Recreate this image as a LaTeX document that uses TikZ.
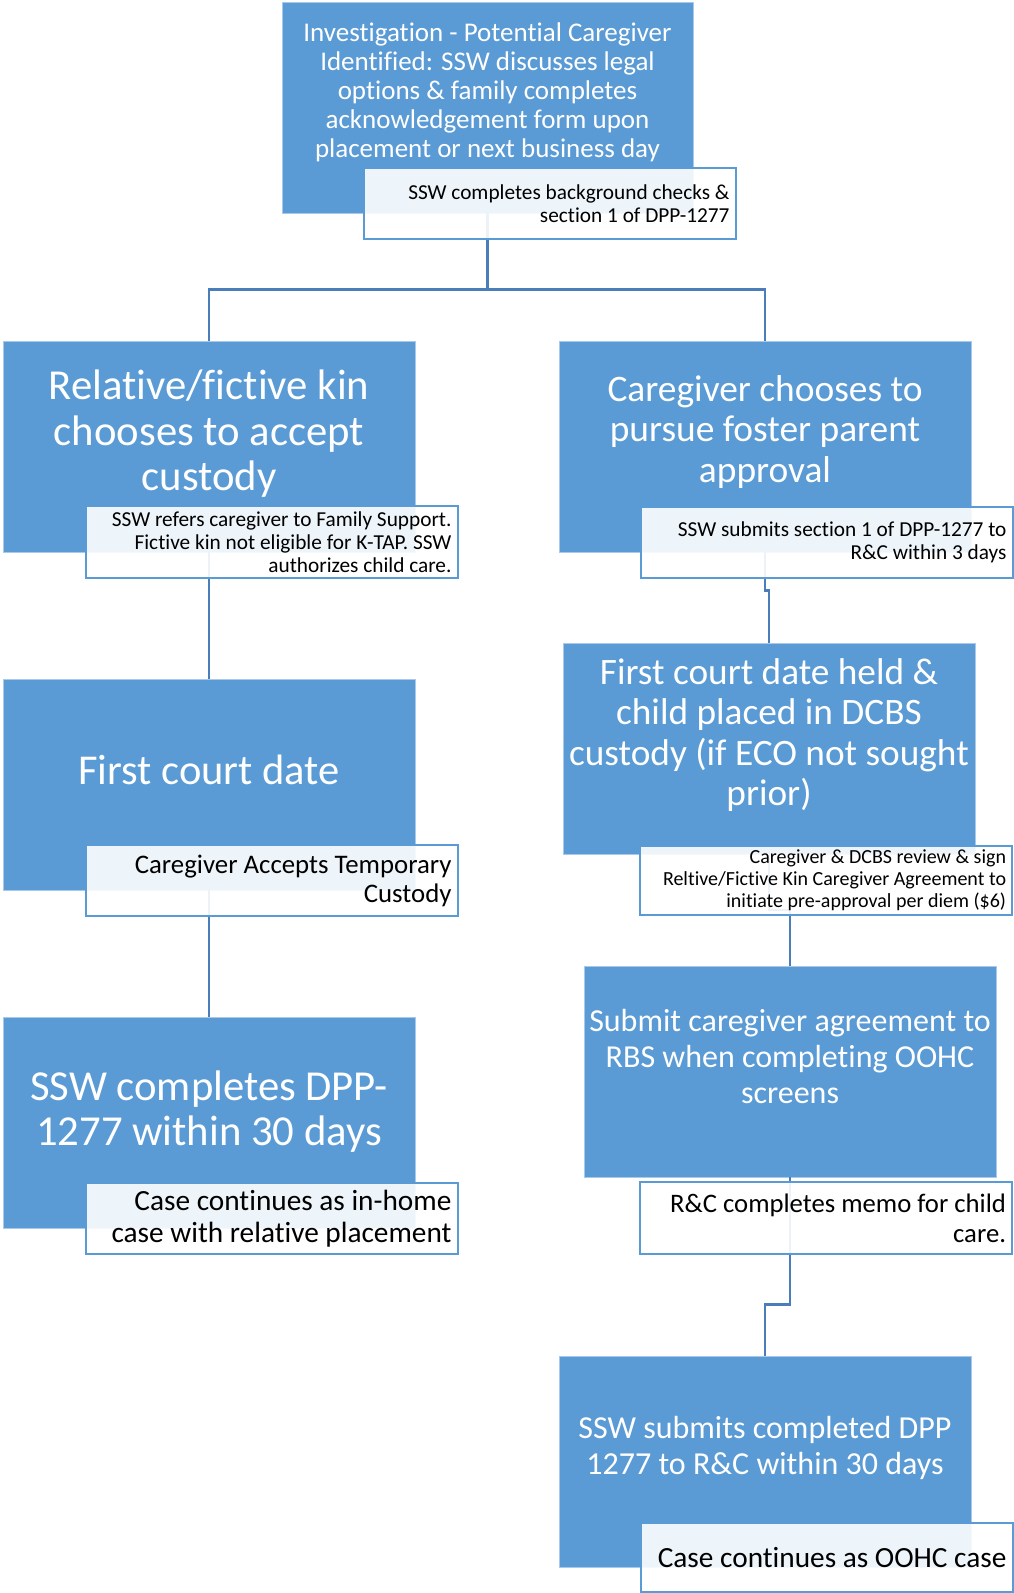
\documentclass[tikz,border=0pt]{standalone}
\usepackage{fontspec}
\setmainfont{Carlito}[Ligatures={NoCommon}]
\usepackage{tikz}
\usetikzlibrary{positioning}
\definecolor{boxblue}{HTML}{5B9BD5}
\definecolor{lineblue}{HTML}{4A7EBB}
\definecolor{edgeblue}{HTML}{A9C9EA}
\newcommand{\fsz}[2]{\fontsize{#1}{#2}\selectfont}
\tikzset{
    block/.style={rectangle, draw=edgeblue, line width=0.8pt, fill=boxblue, minimum width=412pt, minimum height=211pt, inner sep=0pt},
    title/.style={text=white, align=center, inner sep=0pt},
    note/.style={rectangle, draw=boxblue, line width=2pt, fill=white, fill opacity=0.9, text opacity=1, align=flush right, text width=360pt, inner xsep=6pt, inner ysep=0pt, minimum height=71pt},
    conn/.style={draw=lineblue, line width=2.5pt}
}
\begin{document}
\begin{tikzpicture}[x=1pt, y=-1pt]
        \useasboundingbox (0,0) rectangle (1013,1593);
        % blue boxes
        \node[block, minimum width=411pt] (Inv) at (487.5,107.5) {};
        \node[block] (Kin) at (209,446.5) {};
        \node[block] (Court) at (209,784.5) {};
        \node[block] (Dpp) at (209,1123) {};
        \node[block] (Foster) at (765,446.5) {};
        \node[block] (Held) at (769,749) {};
        \node[block] (Rbs) at (790,1071.5) {};
        \node[block] (Submit) at (765,1461.5) {};

        % connectors
        \draw[conn] (Inv.south) -- ++(0,76) coordinate (Split);
        \draw[conn] (Kin.north) |- (Split) -| (Foster.north);
        \draw[conn] (Kin.south) -- (Court.north);
        \draw[conn] (Court.south) -- (Dpp.north);
        \draw[conn] (Foster.south) -- ++(0,38) -| (Held.north);
        \draw[conn] (Held.south) -- ++(0,55) -| (Rbs.north);
        \draw[conn] (Rbs.south) -- ++(0,127) -| (Submit.north);

        % titles
        \node[title, font=\fsz{27}{29}] (InvT) at (487.5,92) {Investigation - Potential Caregiver\\Identified: SSW discusses legal\\options \& family completes\\acknowledgement form upon\\placement or next business day};
        \node[title, font=\fsz{42.7}{45.5}] (KinT) at (209,434) {Relative/fictive kin\\chooses to accept\\custody};
        \node[title, font=\fsz{42.5}{45}] (CourtT) at (209,770) {First court date};
        \node[title, font=\fsz{42.7}{45}] (DppT) at (209,1112) {SSW completes DPP-\\1277 within 30 days};
        \node[title, font=\fsz{37.4}{40.5}] (FosterT) at (765,432) {Caregiver chooses to\\pursue foster parent\\approval};
        \node[title, font=\fsz{37.3}{40.5}] (HeldT) at (769,735) {First court date held \&\\child placed in DCBS\\custody (if ECO not sought\\prior)};
        \node[title, font=\fsz{32}{36}] (RbsT) at (790,1056) {Submit caregiver agreement to\\RBS when completing OOHC\\screens};
        \node[title, font=\fsz{32}{36.5}] (SubmitT) at (765,1448) {SSW submits completed DPP\\1277 to R\&C within 30 days};

        % notes
        \node[note, font=\fsz{21.3}{23}] (InvN) at (549.5,203.5) {SSW completes background checks \&\\section 1 of DPP-1277};
        \node[note, minimum height=72pt, font=\fsz{21.3}{23.3}] (KinN) at (271.5,542) {SSW refers caregiver to Family Support.\\Fictive kin not eligible for K-TAP. SSW\\authorizes child care.};
        \node[note, font=\fsz{26.8}{29}] (CourtN) at (271.5,880.5) {Caregiver Accepts Temporary\\Custody};
        \node[note, font=\fsz{29.3}{32}] (DppN) at (271.5,1218.5) {Case continues as in-home\\case with relative placement};
        \node[note, font=\fsz{21.3}{23.3}] (FosterN) at (826.5,542.5) {SSW submits section 1 of DPP-1277 to\\R\&C within 3 days};
        \node[note, minimum height=69pt, font=\fsz{20}{22}] (HeldN) at (826,880.5) {Caregiver \& DCBS review \& sign\\Reltive/Fictive Kin Caregiver Agreement to\\initiate pre-approval per diem (\$6)};
        \node[note, minimum height=72pt, font=\fsz{26.7}{30}] (RbsN) at (826,1218) {R\&C completes memo for child\\care.};
        \node[note, minimum height=69pt, font=\fsz{29.3}{30}] (SubmitN) at (826.5,1557.5) {Case continues as OOHC case};
    \end{tikzpicture}
\end{document}
